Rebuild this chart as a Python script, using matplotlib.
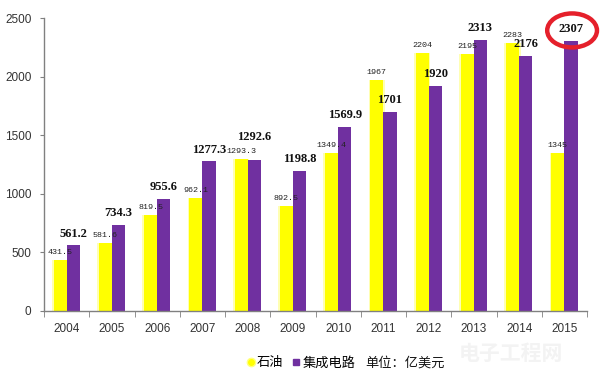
import numpy as np
import matplotlib
matplotlib.use('Agg')
import matplotlib.pyplot as plt
from matplotlib.patches import Ellipse
from matplotlib.lines import Line2D

plt.rcParams['font.family'] = ['Liberation Sans', 'Noto Sans CJK SC', 'DejaVu Sans']

# ----------------------------------------------------
# data (亿美元)
# ----------------------------------------------------
years = ['2004', '2005', '2006', '2007', '2008', '2009',
         '2010', '2011', '2012', '2013', '2014', '2015']
oil = [431.5, 581.6, 819.5, 962.1, 1293.3, 892.5,
       1349.4, 1967, 2204, 2195, 2283, 1345]
ic = [561.2, 734.3, 955.6, 1277.3, 1292.6, 1198.8,
      1569.9, 1701, 1920, 2313, 2176, 2307]
oil_labels = ['431.5', '581.6', '819.5', '962.1', '1293.3', '892.5',
              '1349.4', '1967', '2204', '2195', '2283', '1345']
ic_labels = ['561.2', '734.3', '955.6', '1277.3', '1292.6', '1198.8',
             '1569.9', '1701', '1920', '2313', '2176', '2307']
yticks = [0, 500, 1000, 1500, 2000, 2500]

yellow = '#FFFF00'
purple = '#7030A0'
grey = '#808080'

fig = plt.figure(figsize=(6.08, 3.8), dpi=100)
ax = fig.add_axes([0.0724, 0.1816, 0.8931, 0.771])

x = np.arange(len(years))
w = 0.29

# soft glow round the yellow bars, like the original picture
ax.bar(x - w / 2, oil, w * 1.25, color='#FFFF80', alpha=0.6, zorder=1)
ax.bar(x - w / 2, oil, w, color=yellow, zorder=2)
ax.bar(x + w / 2, ic, w, color=purple, zorder=2)

# value labels (2008 IC label sits higher so it clears the oil label)
for i in range(len(years)):
    ax.annotate(oil_labels[i], (x[i] - w / 2, oil[i]), xytext=(0, 3),
                textcoords='offset points', ha='center', va='bottom',
                fontsize=6, family='Liberation Mono', color='#222222', zorder=3)
    lift = 12 if i == 4 else 4
    ax.annotate(ic_labels[i], (x[i] + w / 2, ic[i]), xytext=(0, lift),
                textcoords='offset points', ha='center', va='bottom',
                fontsize=9, family='Liberation Serif', fontweight='bold',
                color='#111111', zorder=4)

# red ring round the 2015 value
ring = Ellipse((11.17, 2394), 1.1, 290, fill=False, edgecolor='#E5202B',
               linewidth=3.2, clip_on=False, zorder=5)
ax.add_patch(ring)

# axes
ax.set_xlim(-0.5, len(years) - 0.5)
ax.set_ylim(0, 2500)
ax.set_yticks(yticks)
ax.set_xticks(x)
ax.set_xticklabels(years)
ax.set_xticks(np.arange(len(years) + 1) - 0.5, minor=True)
ax.tick_params(axis='x', which='major', length=0, pad=9, labelsize=8.5, colors='#333333')
ax.tick_params(axis='x', which='minor', length=4, color=grey, direction='out')
ax.tick_params(axis='y', length=3, color=grey, direction='out', pad=6,
               labelsize=8.5, labelcolor='#333333')
for s in ['top', 'right']:
    ax.spines[s].set_visible(False)
for s in ['left', 'bottom']:
    ax.spines[s].set_color(grey)
    ax.spines[s].set_linewidth(1.0)

# legend at the bottom
handles = [Line2D([], [], marker='o', linestyle='', markersize=6,
                  markerfacecolor=yellow, markeredgecolor='#FFFF80'),
           Line2D([], [], marker='s', linestyle='', markersize=5,
                  markerfacecolor=purple, markeredgecolor=purple)]
leg = fig.legend(handles, ['石油', '集成电路'], loc='center', bbox_to_anchor=(0.495, 0.045),
                 ncol=2, frameon=False, handlelength=0.6,
                 handletextpad=0.15, columnspacing=0.7,
                 prop={'family': ['Noto Sans CJK SC', 'DejaVu Sans'], 'size': 9.5})
fig.text(0.6, 0.045, '单位：亿美元', ha='left', va='center', fontsize=9.5,
         family=['Noto Sans CJK SC', 'DejaVu Sans'], color='#111111')

# faint watermark
fig.text(0.84, 0.07, '电子工程网', ha='center', va='center', fontsize=15,
         fontweight='bold', family=['Noto Sans CJK SC', 'DejaVu Sans'],
         color='#F3F3F3', zorder=0)

fig.savefig('out.png', dpi=100)
